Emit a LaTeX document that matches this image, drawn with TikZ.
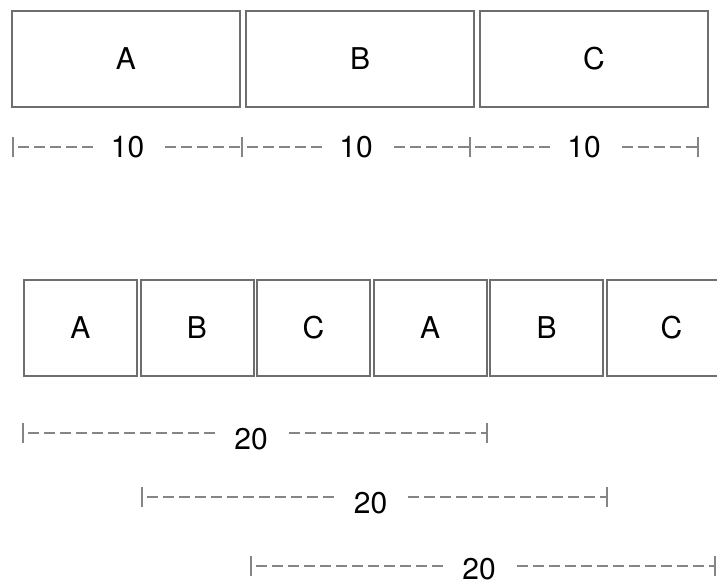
\documentclass[tikz,border=0pt]{standalone}
\usepackage{fontspec}
\setmainfont{TeX Gyre Heros}
\usetikzlibrary{positioning,calc}
\definecolor{edge}{HTML}{6E6E6E}
\definecolor{rule}{HTML}{858585}
\tikzset{
  cell/.style={draw=edge,line width=2pt,minimum height=96pt,inner sep=0pt,outer sep=0pt,font=\fontsize{30}{36}\selectfont},
  wcell/.style={cell,minimum width=228pt},
  ncell/.style={cell,minimum width=113pt},
  lbl/.style={font=\fontsize{30}{36}\selectfont,inner xsep=16pt,inner ysep=0pt,text depth=0pt},
  dim/.style={draw=rule,line width=1.4pt,dash pattern=on 11pt off 5pt,dash phase=11pt},
  tick/.style={draw=rule,line width=1.8pt},
}
% name, from, to, height, label
\newcommand{\dimspan}[6][]{%
  \coordinate (#2l) at (#3,#5);
  \coordinate (#2r) at (#4,#5);
  \node[lbl,#1] (#2) at ($(#2l)!0.5!(#2r)$) {#6};
  \draw[tick] ([yshift=10pt]#2l) -- ([yshift=-10pt]#2l);
  \draw[tick] ([yshift=10pt]#2r) -- ([yshift=-10pt]#2r);
  \draw[dim] (#2l) -- (#2l -| #2.west);
  \draw[dim] (#2r -| #2.east) -- (#2r);
}

\begin{document}
\begin{tikzpicture}[x=1pt,y=-1pt]
\useasboundingbox (0,0) rectangle (717,584);
\clip (0,0) rectangle (717,584);
% wide blocks
\node[wcell] (a1) at (126,58.5) {A};
\node[wcell,right=6pt of a1] (b1) {B};
\node[wcell,right=6pt of b1] (c1) {C};
\dimspan{t1}{13}{242}{147}{10}
\dimspan{t2}{242}{470}{147}{10}
\dimspan{t3}{470}{698}{147}{10}
% narrow blocks
\node[ncell] (a2) at (80.5,328) {A};
\node[ncell,right=3.5pt of a2] (b2) {B};
\node[ncell,right=3.5pt of b2] (c2) {C};
\node[ncell,right=3.5pt of c2] (a3) {A};
\node[ncell,right=3.5pt of a3] (b3) {B};
\node[ncell,minimum width=130pt,right=3.5pt of b3] (c3) {C};
\dimspan[xshift=-4pt,yshift=-6pt]{s1}{23}{487}{433}{20}
\dimspan[xshift=-4pt,yshift=-6pt]{s2}{142}{607}{497}{20}
\dimspan[xshift=-4pt,yshift=-3pt]{s3}{251}{715}{566}{20}
\end{tikzpicture}
\end{document}
